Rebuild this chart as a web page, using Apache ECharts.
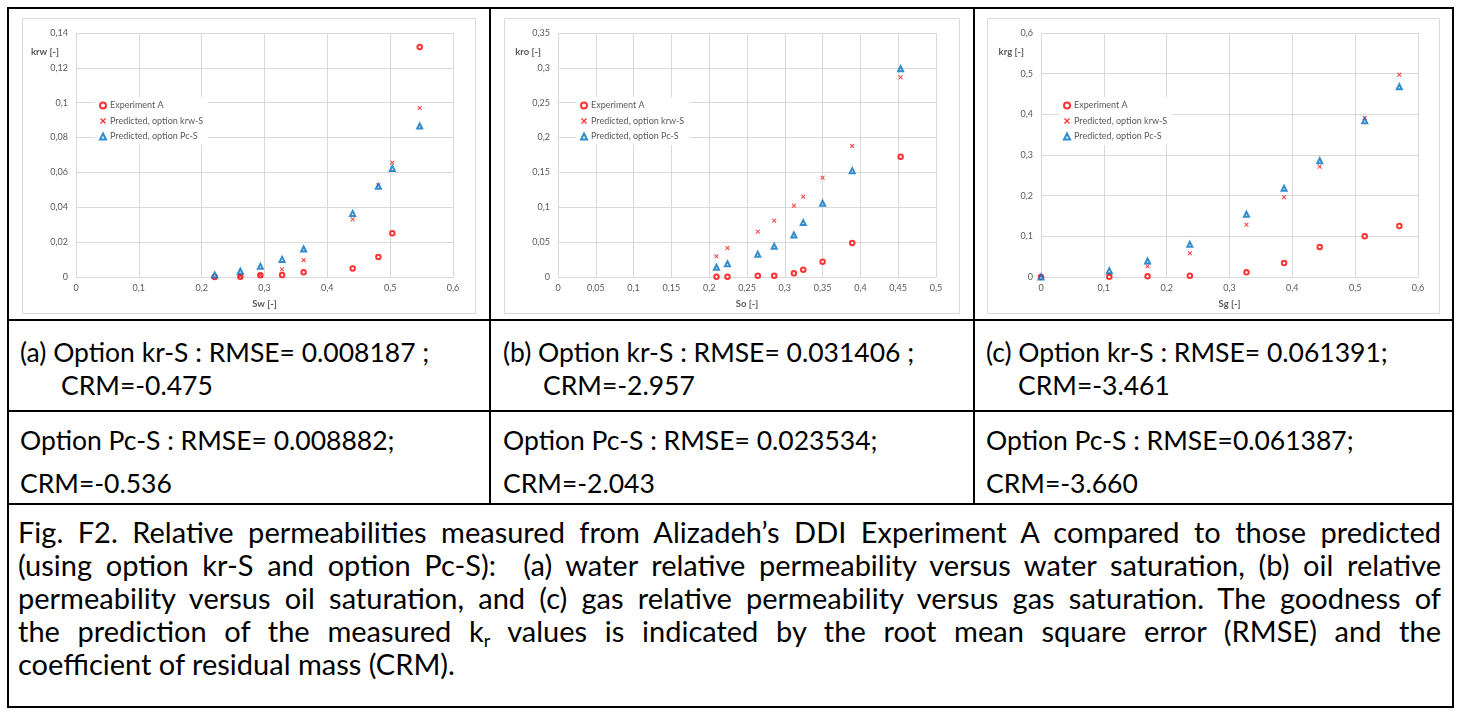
<!DOCTYPE html>
<html>
<head>
<meta charset="utf-8">
<script src="https://cdn.jsdelivr.net/npm/echarts@6/dist/echarts.min.js"></script>
<style>
  body { margin: 0; background: #fff; }
  #page { position: relative; width: 1459px; height: 717px; overflow: hidden;
          font-family: Lato, "Noto Sans", sans-serif; color: #000; background: #fff; }
  #charts { position: absolute; left: 0; top: 0; width: 1459px; height: 321px; }
  .rule { position: absolute; background: #000; }
  .cell { position: absolute; font-size: 26.5px; line-height: 34px; white-space: nowrap; }
  .cap { position: absolute; left: 18px; width: 1423px; font-size: 29px; line-height: 33px;
         text-align: justify; text-align-last: justify; white-space: normal; }
  .cap.last { text-align: left; text-align-last: left; }
  .sub { font-size: 18px; vertical-align: -5px; line-height: 0; }
</style>
</head>
<body>
<div id="page">
  <div id="charts"></div>

  <!-- table rules -->
  <div class="rule" style="left:7px;top:7px;width:1447px;height:2px"></div>
  <div class="rule" style="left:7px;top:319px;width:1447px;height:2px"></div>
  <div class="rule" style="left:7px;top:410px;width:1447px;height:2px"></div>
  <div class="rule" style="left:7px;top:503px;width:1447px;height:2px"></div>
  <div class="rule" style="left:7px;top:706px;width:1447px;height:2px"></div>
  <div class="rule" style="left:7px;top:7px;width:2px;height:701px"></div>
  <div class="rule" style="left:1452px;top:7px;width:2px;height:701px"></div>
  <div class="rule" style="left:489px;top:7px;width:2px;height:497px"></div>
  <div class="rule" style="left:973px;top:7px;width:2px;height:497px"></div>

  <!-- goodness-of-fit cells, option kr-S -->
  <div class="cell" style="left:20px;top:335px">(a) Option kr-S : RMSE= 0.008187 ;</div>
  <div class="cell" style="left:61px;top:368px">CRM=-0.475</div>
  <div class="cell" style="left:503px;top:335px">(b) Option kr-S : RMSE= 0.031406 ;</div>
  <div class="cell" style="left:543px;top:368px">CRM=-2.957</div>
  <div class="cell" style="left:986px;top:335px">(c) Option kr-S : RMSE= 0.061391;</div>
  <div class="cell" style="left:1018px;top:368px">CRM=-3.461</div>

  <!-- goodness-of-fit cells, option Pc-S -->
  <div class="cell" style="left:20px;top:423px">Option Pc-S : RMSE= 0.008882;</div>
  <div class="cell" style="left:20px;top:466px">CRM=-0.536</div>
  <div class="cell" style="left:503px;top:423px">Option Pc-S : RMSE= 0.023534;</div>
  <div class="cell" style="left:503px;top:466px">CRM=-2.043</div>
  <div class="cell" style="left:986px;top:423px">Option Pc-S : RMSE=0.061387;</div>
  <div class="cell" style="left:986px;top:466px">CRM=-3.660</div>

  <!-- figure caption -->
  <div class="cap" style="top:515px">Fig. F2. Relative permeabilities measured from Alizadeh’s DDI Experiment A compared to those predicted</div>
  <div class="cap" style="top:548px">(using option kr-S and option Pc-S):&nbsp; (a) water relative permeability versus water saturation, (b) oil relative</div>
  <div class="cap" style="top:581px">permeability versus oil saturation, and (c) gas relative permeability versus gas saturation. The goodness of</div>
  <div class="cap" style="top:614px">the prediction of the measured k<span class="sub">r</span> values is indicated by the root mean square error (RMSE) and the</div>
  <div class="cap last" style="top:647px">coefficient of residual mass (CRM).</div>
</div>

<script>
// Series names shared by the three panels
const seriesNames = ['Experiment A', 'Predicted, option krw-S', 'Predicted, option Pc-S'];

// (a) water relative permeability versus water saturation
const swValues      = [0.2207, 0.2615, 0.2934, 0.3280, 0.3623, 0.4403, 0.4812, 0.5034, 0.5470];
const krwExperiment = [0.0000, 0.0002, 0.0010, 0.0011, 0.0027, 0.0049, 0.0115, 0.0251, 0.1320];
const krwPredKrS    = [0.0004, 0.0006, 0.0011, 0.0044, 0.0096, 0.0331, 0.0526, 0.0656, 0.0970];
const krwPredPcS    = [0.0012, 0.0033, 0.0061, 0.0101, 0.0161, 0.0365, 0.0520, 0.0623, 0.0866];

// (b) oil relative permeability versus oil saturation
const soValues      = [0.2096, 0.2242, 0.2643, 0.2860, 0.3120, 0.3244, 0.3500, 0.3892, 0.4532];
const kroExperiment = [0.0004, 0.0005, 0.0019, 0.0019, 0.0053, 0.0105, 0.0220, 0.0488, 0.1726];
const kroPredKrS    = [0.0296, 0.0416, 0.0650, 0.0808, 0.1023, 0.1152, 0.1425, 0.1879, 0.2864];
const kroPredPcS    = [0.0140, 0.0191, 0.0325, 0.0440, 0.0602, 0.0780, 0.1057, 0.1525, 0.2988];

// (c) gas relative permeability versus gas saturation
const sgValues      = [0.0000, 0.1087, 0.1696, 0.2369, 0.3270, 0.3869, 0.4436, 0.5152, 0.5703];
const krgExperiment = [0.0000, 0.0005, 0.0016, 0.0033, 0.0115, 0.0344, 0.0738, 0.1000, 0.1254];
const krgPredKrS    = [0.0000, 0.0082, 0.0262, 0.0582, 0.1287, 0.1959, 0.2713, 0.3910, 0.4975];
const krgPredPcS    = [0.0000, 0.0156, 0.0393, 0.0803, 0.1541, 0.2180, 0.2860, 0.3844, 0.4680];

// Axis ranges: [min, max, interval]
const swAxis  = [0, 0.6, 0.1];
const krwAxis = [0, 0.14, 0.02];
const soAxis  = [0, 0.5, 0.05];
const kroAxis = [0, 0.35, 0.05];
const sgAxis  = [0, 0.6, 0.1];
const krgAxis = [0, 0.6, 0.1];

// Axis titles
const xTitles = ['Sw [-]', 'So [-]', 'Sg [-]'];
const yTitles = ['krw [-]', 'kro [-]', 'krg [-]'];

const RED = '#ff0000';
const BLUE = '#0070c0';
const GRID_GRAY = '#d9d9d9';
const TEXT_GRAY = '#595959';
const FONT = 'Lato';
const CROSS = 'path://M0,1.5 L1.5,0 L5,3.5 L8.5,0 L10,1.5 L6.5,5 L10,8.5 L8.5,10 L5,6.5 L1.5,10 L0,8.5 L3.5,5 Z';

const panels = [
  { x: swValues, ys: [krwExperiment, krwPredKrS, krwPredPcS], xr: swAxis, yr: krwAxis,
    grid: { left: 76, top: 33, width: 377, height: 244 }, box: [22, 18, 453, 295], legend: [95, 97] },
  { x: soValues, ys: [kroExperiment, kroPredKrS, kroPredPcS], xr: soAxis, yr: kroAxis,
    grid: { left: 558, top: 33, width: 378, height: 244 }, box: [504, 18, 455, 295], legend: [576, 97] },
  { x: sgValues, ys: [krgExperiment, krgPredKrS, krgPredPcS], xr: sgAxis, yr: krgAxis,
    grid: { left: 1041, top: 33, width: 377, height: 244 }, box: [987, 18, 452, 295], legend: [1059, 97] }
];

const fmt = v => String(+v.toFixed(4)).replace('.', ',');

const styles = [
  { symbol: 'emptyCircle', symbolSize: 4.5, itemStyle: { color: RED, borderColor: RED, borderWidth: 1.2 } },
  { symbol: CROSS, symbolSize: 4.5, itemStyle: { color: RED } },
  { symbol: 'emptyTriangle', symbolSize: 5, itemStyle: { color: BLUE, borderColor: BLUE, borderWidth: 1.2 } }
];

const option = {
  animation: false,
  backgroundColor: '#fff',
  textStyle: { fontFamily: FONT },
  graphic: panels.map(p => ({
    type: 'rect', silent: true, z: -10,
    shape: { x: p.box[0] + 0.5, y: p.box[1] + 0.5, width: p.box[2], height: p.box[3] },
    style: { fill: '#fff', stroke: GRID_GRAY, lineWidth: 1 }
  })),
  grid: panels.map(p => Object.assign({ containLabel: false }, p.grid)),
  xAxis: panels.map((p, i) => ({
    type: 'value', gridIndex: i, min: p.xr[0], max: p.xr[1], interval: p.xr[2],
    name: xTitles[i], nameLocation: 'middle', nameGap: 22,
    nameTextStyle: { color: TEXT_GRAY, fontSize: 9.5, fontWeight: 'bold', fontFamily: FONT },
    axisLine: { show: true, lineStyle: { color: GRID_GRAY, width: 1 } },
    axisTick: { show: false },
    axisLabel: { color: TEXT_GRAY, fontSize: 9, fontFamily: FONT, margin: 7, formatter: fmt },
    splitLine: { show: true, lineStyle: { color: GRID_GRAY, width: 1 } }
  })),
  yAxis: panels.map((p, i) => ({
    type: 'value', gridIndex: i, min: p.yr[0], max: p.yr[1], interval: p.yr[2],
    name: yTitles[i], nameLocation: 'end', nameGap: -24,
    nameTextStyle: { color: TEXT_GRAY, fontSize: 9.5, fontWeight: 'bold', fontFamily: FONT,
                     align: 'right', verticalAlign: 'bottom', padding: [0, 17, 0, 0] },
    axisLine: { show: false },
    axisTick: { show: false },
    axisLabel: { color: TEXT_GRAY, fontSize: 9, fontFamily: FONT, margin: 8, formatter: fmt },
    splitLine: { show: true, lineStyle: { color: GRID_GRAY, width: 1 } }
  })),
  legend: panels.map(p => ({
    left: p.legend[0], top: p.legend[1], orient: 'vertical',
    backgroundColor: '#fff', padding: [4, 5, 4, 4], itemGap: 6.5,
    itemWidth: 6, itemHeight: 6, selectedMode: false,
    textStyle: { color: TEXT_GRAY, fontSize: 9, fontFamily: FONT, padding: [0, 0, 0, -1] },
    data: seriesNames
  })),
  series: []
};

panels.forEach((p, i) => {
  p.ys.forEach((vals, k) => {
    option.series.push(Object.assign({
      type: 'scatter', name: seriesNames[k], xAxisIndex: i, yAxisIndex: i, z: 2 + k,
      data: p.x.map((xv, j) => [xv, vals[j]])
    }, styles[k]));
  });
});

const chart = echarts.init(document.getElementById('charts'), null, { renderer: 'canvas' });
chart.setOption(option);
</script>
</body>
</html>
